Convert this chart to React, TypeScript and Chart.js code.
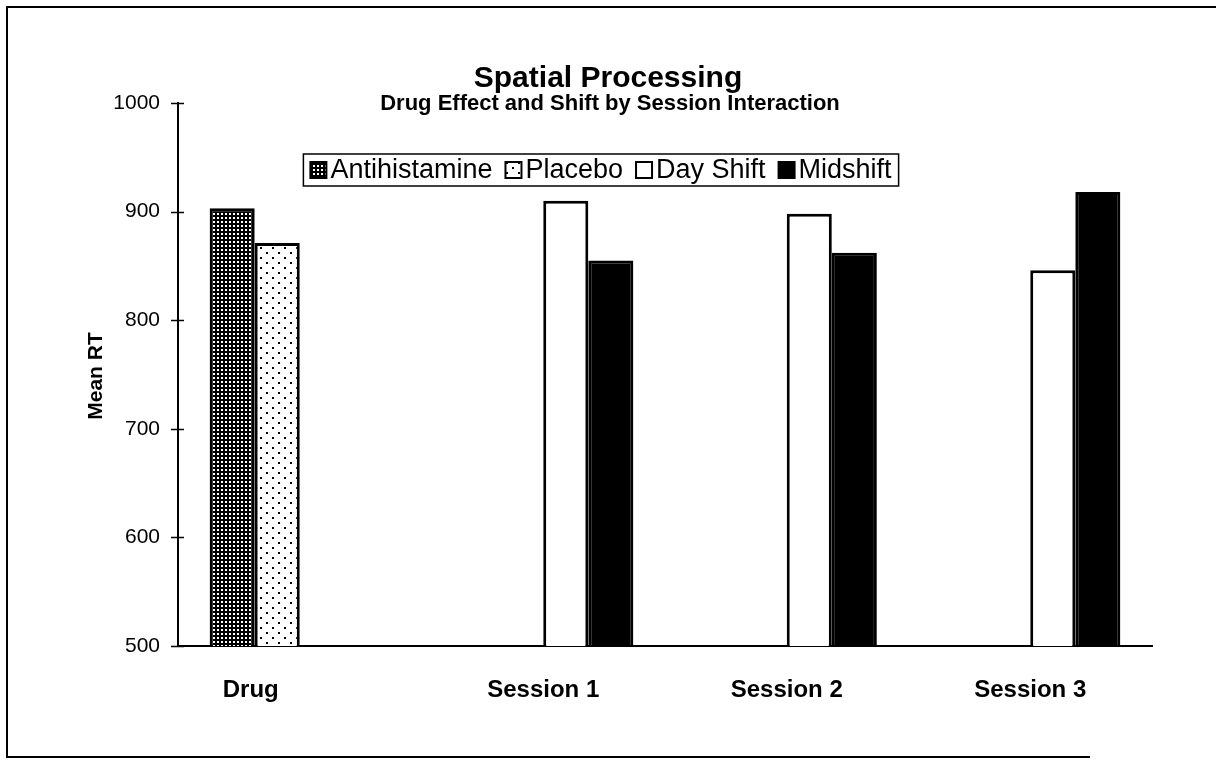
import React, { useEffect, useRef } from "react";
import { Chart, registerables } from "chart.js";

Chart.register(...registerables);

const categories = ["Drug", "Session 1", "Session 2", "Session 3"];
const seriesNames = ["Antihistamine", "Placebo", "Day Shift", "Midshift"];
const antihistamine = [903, null, null, null];
const placebo = [871, null, null, null];
const dayShift = [null, 910, 898, 846];
const midshift = [null, 855, 862, 918];
const yTicks = [500, 600, 700, 800, 900, 1000];
const titleText = "Spatial Processing";
const subtitleText = "Drug Effect and Shift by Session Interaction";
const yTitleText = "Mean RT";

const FONT = "'Liberation Sans', Arial, Helvetica, sans-serif";

function makeDense(): CanvasPattern | string {
  const c = document.createElement("canvas");
  c.width = 4;
  c.height = 4;
  const g = c.getContext("2d")!;
  g.fillStyle = "#000";
  g.fillRect(0, 0, 4, 4);
  g.fillStyle = "#fff";
  g.fillRect(1, 1, 2, 2);
  return g.createPattern(c, "repeat") || "#555";
}

function makeSparse(): CanvasPattern | string {
  const c = document.createElement("canvas");
  c.width = 12;
  c.height = 10;
  const g = c.getContext("2d")!;
  g.fillStyle = "#fff";
  g.fillRect(0, 0, 12, 10);
  g.fillStyle = "#000";
  g.fillRect(2, 2, 2, 2);
  g.fillRect(8, 7, 2, 2);
  return g.createPattern(c, "repeat") || "#eee";
}

export default function App() {
  const ref = useRef<HTMLCanvasElement | null>(null);

  useEffect(() => {
    if (!ref.current) return;
    const dense = makeDense();
    const sparse = makeSparse();
    const fills = [dense, sparse, "#ffffff", "#000000"];
    const seriesData = [antihistamine, placebo, dayShift, midshift];

    const decor = {
      id: "decor",
      afterDraw(chart: any) {
        const ctx: CanvasRenderingContext2D = chart.ctx;
        const area = chart.chartArea;
        const ys = chart.scales.y;
        const xs = chart.scales.x;
        ctx.save();
        // outer frame
        ctx.strokeStyle = "#000";
        ctx.lineWidth = 2;
        ctx.beginPath();
        ctx.moveTo(1216, 7);
        ctx.lineTo(7, 7);
        ctx.lineTo(7, 757);
        ctx.lineTo(1090, 757);
        ctx.stroke();

        // crossing y ticks
        ctx.lineWidth = 1.5;
        yTicks.forEach((v) => {
          const y = Math.round(ys.getPixelForValue(v)) + 0.5;
          ctx.beginPath();
          ctx.moveTo(area.left - 7, y);
          ctx.lineTo(area.left + 6, y);
          ctx.stroke();
        });

        ctx.fillStyle = "#000";
        // title
        ctx.textAlign = "center";
        ctx.textBaseline = "middle";
        ctx.font = `bold 30px ${FONT}`;
        ctx.fillText(titleText, 608, 79);
        ctx.font = `bold 22px ${FONT}`;
        ctx.fillText(subtitleText, 610, 104);

        // y title
        ctx.save();
        ctx.translate(96, 376);
        ctx.rotate(-Math.PI / 2);
        ctx.font = `bold 21px ${FONT}`;
        ctx.fillText(yTitleText, 0, 0);
        ctx.restore();

        // x labels
        ctx.font = `bold 24px ${FONT}`;
        categories.forEach((lab, i) => {
          let x = xs.getPixelForValue(i);
          if (i === 0) {
            const a = chart.getDatasetMeta(0).data[0];
            const b = chart.getDatasetMeta(1).data[0];
            x = (a.x + b.x) / 2 - 4;
          }
          ctx.fillText(lab, x, 690);
        });

        // legend
        ctx.font = `27px ${FONT}`;
        const box = 16;
        const gapMT = 4;
        const gapItem = 13;
        const pad = 7;
        const widths = seriesNames.map((n) => ctx.measureText(n).width);
        let total = pad * 2;
        widths.forEach((w, i) => {
          total += box + gapMT + w + (i < widths.length - 1 ? gapItem : 0);
        });
        const cx = 601;
        const top = 154;
        const h = 32;
        const left = cx - total / 2;
        ctx.fillStyle = "#fff";
        ctx.fillRect(left, top, total, h);
        ctx.strokeStyle = "#000";
        ctx.lineWidth = 1.5;
        ctx.strokeRect(left, top, total, h);
        let x = left + pad;
        const my = top + h / 2;
        seriesNames.forEach((n, i) => {
          ctx.fillStyle = fills[i] as any;
          ctx.fillRect(x, my - box / 2, box, box);
          ctx.strokeStyle = "#000";
          ctx.lineWidth = 2;
          ctx.strokeRect(x, my - box / 2, box, box);
          ctx.fillStyle = "#000";
          ctx.textAlign = "left";
          ctx.fillText(n, x + box + gapMT, my + 1);
          x += box + gapMT + widths[i] + gapItem;
        });
        ctx.restore();
      },
    };

    const chart = new Chart(ref.current, {
      type: "bar",
      data: {
        labels: categories,
        datasets: seriesNames.map((name, i) => ({
          label: name,
          data: seriesData[i] as any,
          backgroundColor: fills[i] as any,
          borderColor: "#000",
          borderWidth: 3,
          borderSkipped: "bottom",
          categoryPercentage: 0.74,
          barPercentage: 1,
        })),
      },
      options: {
        animation: false,
        responsive: false,
        events: [],
        layout: { padding: { left: 0, top: 103, right: 64, bottom: 0 } },
        plugins: {
          legend: { display: false },
          title: { display: false },
          tooltip: { enabled: false },
        },
        scales: {
          x: {
            grid: { display: true, drawOnChartArea: false, drawTicks: false },
            border: { display: true, color: "#000", width: 2 },
            ticks: { display: false },
            afterFit: (s: any) => {
              s.height = 117;
            },
          },
          y: {
            min: 500,
            max: 1000,
            afterBuildTicks: (s: any) => {
              s.ticks = yTicks.map((v) => ({ value: v }));
            },
            grid: { display: true, drawOnChartArea: false, drawTicks: false },
            border: { display: true, color: "#000", width: 2 },
            ticks: {
              color: "#000",
              padding: 18,
              font: { family: FONT, size: 21 },
              callback: (v: any) => String(v),
            },
            afterFit: (s: any) => {
              s.width = 178;
            },
          },
        },
      },
      plugins: [decor],
    });
    return () => chart.destroy();
  }, []);

  return (
    <div style={{ position: "absolute", left: 0, top: 0, width: 1216, height: 763, background: "#fff" }}>
      <canvas ref={ref} width={1216} height={763} style={{ display: "block" }} />
    </div>
  );
}
